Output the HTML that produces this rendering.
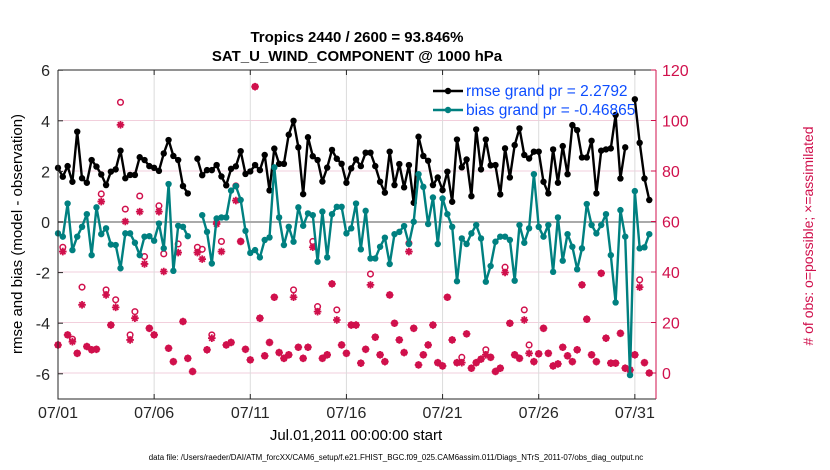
<!DOCTYPE html>
<html><head><meta charset="utf-8"><style>
html,body{margin:0;padding:0;background:#fff}
svg{display:block;font-family:"Liberation Sans",Arial,sans-serif}
</style></head><body>
<svg id="chart" width="830" height="470" viewBox="0 0 830 470">
<g id="grid"></g><g id="marks"></g><g id="axes"></g>
<text x="357" y="42" text-anchor="middle" font-size="15" font-weight="bold">Tropics 2440 / 2600 = 93.846%</text>
<text x="357" y="61" text-anchor="middle" font-size="15" font-weight="bold">SAT_U_WIND_COMPONENT @ 1000 hPa</text>
<text transform="translate(22,234) rotate(-90)" text-anchor="middle" font-size="15">rmse and bias (model - observation)</text>
<text transform="translate(813,236) rotate(-90)" text-anchor="middle" font-size="14" fill="#d0104c"># of obs: o=possible; ×=assimilated</text>
<text x="356" y="440" text-anchor="middle" font-size="15">Jul.01,2011 00:00:00 start</text>
<text x="396" y="460" text-anchor="middle" font-size="7.9">data file: /Users/raeder/DAI/ATM_forcXX/CAM6_setup/f.e21.FHIST_BGC.f09_025.CAM6assim.011/Diags_NTrS_2011-07/obs_diag_output.nc</text>
</svg>
<script>
const rmse=[2.14,1.79,2.21,1.59,3.57,1.73,1.55,2.45,2.19,1.88,1.46,1.99,2.08,2.82,1.73,1.86,1.86,2.56,2.45,2.21,2.14,2.02,2.71,3.24,2.61,2.45,1.42,1.13,null,2.50,1.85,2.05,2.05,2.25,1.8,1.45,2.1,2.2,2.8,1.9,2.0,2.25,2.05,2.65,1.25,2.9,2.3,2.3,3.45,4.0,2.95,1.1,3.35,2.6,2.45,1.6,2.15,2.85,2.5,2.3,1.55,2.12,2.47,2.21,2.74,2.74,2.21,1.59,1.16,2.78,1.46,2.29,1.37,2.25,0.76,3.37,2.61,2.42,1.46,1.76,1.26,1.99,0.80,3.26,2.16,2.47,1.02,3.66,2.08,3.26,2.24,2.25,1.09,2.91,1.76,3.04,3.70,2.65,2.51,2.78,2.78,1.59,1.13,2.87,1.55,3.00,1.89,3.83,3.63,2.55,2.55,3.21,1.13,2.82,2.87,2.91,4.23,1.72,2.95,null,4.85,3.13,1.72,0.87];
const bias=[-0.45,-0.58,0.73,-1.11,-0.58,-0.19,0.31,-1.31,0.58,-0.48,-0.25,-0.89,-0.91,-1.83,-0.45,-0.45,-0.82,-1.31,-0.58,-0.56,-0.74,-0.06,-1.04,1.50,-1.93,-0.15,-0.19,-0.56,null,null,0.27,-0.39,-1.64,0.14,0.18,0.18,1.24,1.42,0.87,-0.35,-1.22,-1.11,-1.40,-0.71,-0.61,2.16,0.18,-0.91,-0.19,-0.78,0.58,-0.15,0.34,0.27,-1.57,0.41,-1.40,0.31,0.60,0.60,-0.45,-0.25,0.73,-1.08,0.44,-1.44,-1.44,-0.98,-0.62,-1.66,-0.48,-0.39,-0.16,-0.87,0.01,1.89,1.39,-0.08,0.97,-0.87,0.93,0.31,-0.19,-2.34,-0.65,-0.87,-0.45,-0.12,-0.65,-2.36,-1.74,-0.78,-0.58,-0.58,-0.71,-2.32,-0.12,-0.82,-0.25,1.89,-0.19,-0.58,-0.12,-1.97,0.18,-1.53,-0.48,-0.98,-1.87,-1.04,0.71,-0.12,-0.45,-0.12,0.31,-1.31,-3.18,0.47,-0.58,-6.05,1.22,-1.04,-1.00,-0.48];
const nAssim=[11.1,48.1,15.1,12.4,7.8,27.0,10.5,9.2,9.4,67.9,30.9,19.0,26.0,98.3,60.0,13.1,21.7,63.9,43.2,17.7,15.1,63.9,40.2,9.8,4.5,47.7,20.4,5.8,0.6,47.7,45.1,9.2,13.8,59.0,48.1,11.1,12.1,68.3,52.1,9.4,5.2,113.4,21.7,6.8,12.1,30.0,8.1,5.8,7.2,30.0,10.2,5.8,10.2,49.8,24.3,5.8,7.2,35.3,21.0,11.1,7.8,19.0,19.0,3.9,9.4,34.9,14.2,7.2,4.5,30.9,19.7,13.1,8.1,48.1,17.7,3.2,7.2,11.1,19.0,4.1,2.8,30.0,13.1,4.1,4.1,15.5,1.9,4.1,5.5,7.2,6.2,0.6,1.9,39.8,19.7,7.2,5.8,21.0,7.8,4.5,7.6,17.7,7.8,2.8,3.6,10.2,6.8,4.5,9.2,34.9,21.3,7.2,4.5,39.5,13.8,3.9,3.9,15.7,1.9,1.2,7.2,34.0,4.1,0];
const nPoss=[11.1,49.8,15.1,13.4,7.8,34.0,10.5,9.2,9.4,70.9,32.9,19.0,29.0,107.2,64.9,15.1,24.3,70.1,46.1,17.7,15.1,66.2,47.2,9.8,4.5,51.1,20.4,5.8,0.6,49.8,49.0,9.2,15.1,59.6,52.1,11.1,12.1,74.1,52.1,9.4,5.2,113.4,21.7,6.8,12.1,30.0,8.1,5.8,7.2,32.9,10.2,5.8,10.2,52.1,26.3,5.8,7.2,35.3,25.0,11.1,7.8,19.0,19.0,3.9,9.4,39.2,14.2,7.2,4.5,30.9,19.7,13.1,8.1,51.4,17.7,3.2,7.2,11.1,19.0,4.1,2.8,30.0,13.1,4.1,6.2,15.5,1.9,4.1,5.5,9.2,6.2,0.6,1.9,41.9,19.7,7.2,5.8,25.0,11.1,4.5,7.6,17.7,7.8,2.8,3.6,10.2,6.8,4.5,9.2,34.9,21.3,7.2,4.5,39.5,13.8,3.9,3.9,15.7,1.9,1.2,7.2,36.9,4.1,0];
const dateTicks=["07/01","07/06","07/11","07/16","07/21","07/26","07/31"];
const leftTicks=[6,4,2,0,-2,-4,-6];
const rightTicks=[120,100,80,60,40,20,0];
const legendLabels=["rmse grand pr = 2.2792","bias grand pr = -0.46865"];

const NS="http://www.w3.org/2000/svg";
const L=58,R=656,T=70,B=399;
const xDay=d=>L+d*(R-L)/31.1;
const xIdx=i=>xDay(i*0.25);
const yL=v=>222-v*25.3;
const yR=c=>373-c*(303/120);
function mk(tag,at,parent){const e=document.createElementNS(NS,tag);for(const k in at)e.setAttribute(k,at[k]);parent.appendChild(e);return e;}
const grid=document.getElementById('grid'),marks=document.getElementById('marks'),axes=document.getElementById('axes');
rightTicks.forEach(c=>{const g=mk('line',{x1:L,x2:R,y1:yR(c),y2:yR(c),stroke:'#f2cfdc','stroke-width':1},grid);

});
dateTicks.forEach((t,i)=>{const x=xDay(i*5);const g=mk('line',{x1:x,x2:x,y1:T,y2:B,stroke:'#dcdcdc','stroke-width':1},grid);

});
const z=mk('line',{x1:L,x2:R,y1:yL(0),y2:yL(0),stroke:'#aaa','stroke-width':2},grid);


const pink='#d0104c';
nPoss.forEach((c,i)=>{const e=mk('circle',{cx:xIdx(i),cy:yR(c),r:2.8,fill:'none',stroke:pink,'stroke-width':1.5},marks);

});
nAssim.forEach((c,i)=>{const x=xIdx(i),y=yR(c),s=3.8;
const d=`M${x-s},${y}H${x+s}M${x},${y-s}V${y+s}M${x-s*0.7},${y-s*0.7}L${x+s*0.7},${y+s*0.7}M${x-s*0.7},${y+s*0.7}L${x+s*0.7},${y-s*0.7}`;
const e=mk('path',{d:d,stroke:pink,'stroke-width':1.8,fill:'none'},marks);

});
function series(arr,color,name){
 let d='',pen=false;arr.forEach((v,i)=>{if(v===null){pen=false;return;}d+=(pen?'L':'M')+xIdx(i).toFixed(1)+','+yL(v).toFixed(1);pen=true;});
 const p=mk('path',{d:d,fill:'none',stroke:color,'stroke-width':2.4,'stroke-linejoin':'round'},marks);
 
 
 arr.forEach((v,i)=>{if(v===null)return;const c=mk('circle',{cx:xIdx(i),cy:yL(v),r:3.2,fill:color},marks);
 
 });
}
series(rmse,'#000','rmse');
series(bias,'#008080','bias');
const f=mk('path',{d:`M${L},${T}H${R}M${L},${T}V${B}H${R}`,fill:'none',stroke:'#262626','stroke-width':1},axes);


const ra=mk('line',{x1:R,x2:R,y1:T,y2:B,stroke:pink,'stroke-width':1},axes);


leftTicks.forEach(v=>{const y=yL(v);mk('line',{x1:L,x2:L+5,y1:y,y2:y,stroke:'#262626'},axes);
const t=mk('text',{x:L-8,y:y+6,'text-anchor':'end','font-size':16,fill:'#262626'},axes);t.textContent=v;

});
rightTicks.forEach(c=>{const y=yR(c);mk('line',{x1:R-5,x2:R,y1:y,y2:y,stroke:pink},axes);
const t=mk('text',{x:R+6,y:y+6,'font-size':16,fill:pink},axes);t.textContent=c;

});
dateTicks.forEach((s,i)=>{const x=xDay(i*5);mk('line',{x1:x,x2:x,y1:B,y2:B-5,stroke:'#262626'},axes);mk('line',{x1:x,x2:x,y1:T,y2:T+5,stroke:'#262626'},axes);
const t=mk('text',{x:x,y:418,'text-anchor':'middle','font-size':16,fill:'#262626'},axes);t.textContent=s;

});
[['#000',91],['#008080',110]].forEach((c,i)=>{
 const ln=mk('line',{x1:433,x2:463,y1:c[1],y2:c[1],stroke:c[0],'stroke-width':2.4},axes);
 
 
 mk('circle',{cx:448,cy:c[1],r:3.2,fill:c[0]},axes);
 const t=mk('text',{x:466,y:c[1]+5,'font-size':15.5,fill:'#0d4dff'},axes);t.textContent=legendLabels[i];
 
 
});
</script>
</body></html>
